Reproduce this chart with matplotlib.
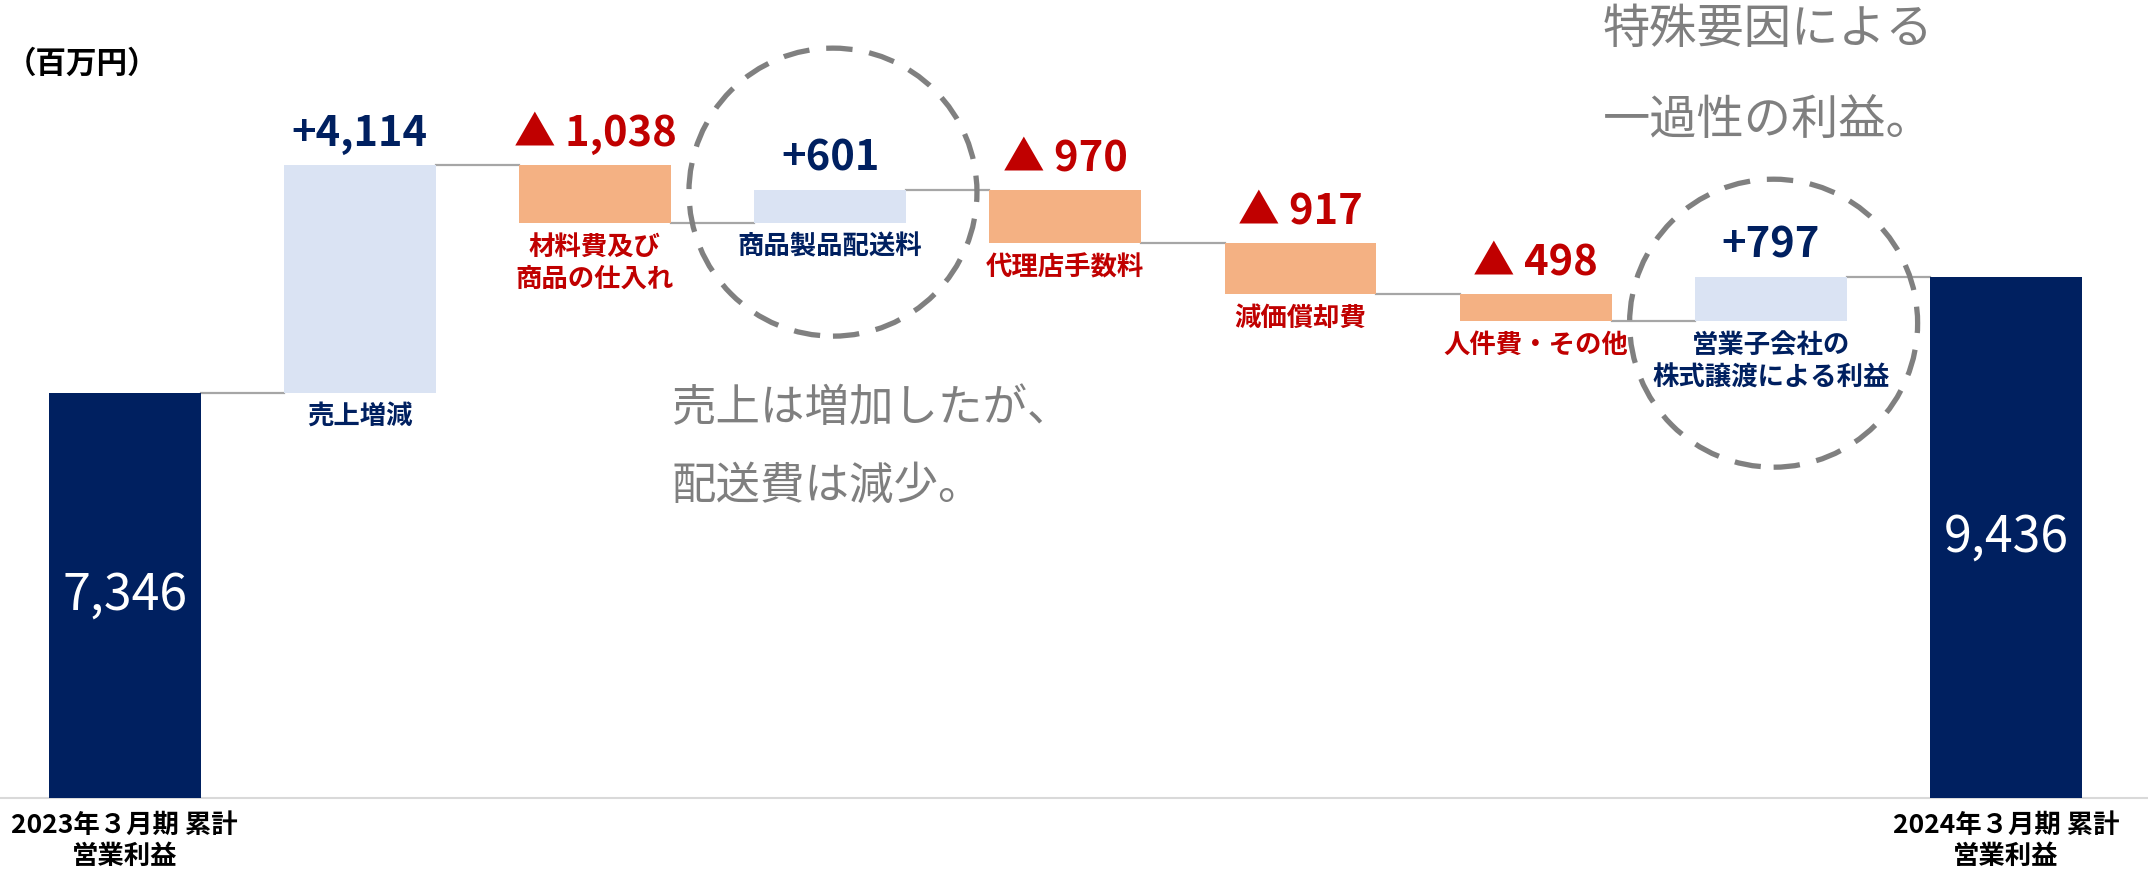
import matplotlib
matplotlib.use('Agg')
import matplotlib.pyplot as plt
from matplotlib.patches import Ellipse

plt.rcParams['font.family'] = ['Noto Sans CJK JP', 'DejaVu Sans']

# data (百万円)
categories = ["2023年３月期 累計\n営業利益", "売上増減", "材料費及び\n商品の仕入れ",
              "商品製品配送料", "代理店手数料", "減価償却費", "人件費・その他",
              "営業子会社の\n株式譲渡による利益", "2024年３月期 累計\n営業利益"]
start_value = 7346
changes = [4114, -1038, 601, -970, -917, -498, 797]
end_value = 9436

NAVY = '#002060'
LIGHT = '#dae3f3'
ORANGE = '#f4b183'
RED = '#c00000'
GRAY = '#7f7f7f'

W, H = 2148, 876
fig = plt.figure(figsize=(W / 100, H / 100), dpi=100)
ax_bottom_px = 78
ax = fig.add_axes([0, ax_bottom_px / H, 1, (H - ax_bottom_px) / H])
xmin, xmax = -0.530, 8.604
ymax = 14457
ax.set_xlim(xmin, xmax)
ax.set_ylim(0, ymax)
ax.axis('off')
ppx = W / (xmax - xmin)            # pixels per x unit
ppy = (H - ax_bottom_px) / ymax    # pixels per y unit

bw = 0.646

# running totals
levels = [start_value]
for c in changes:
    levels.append(levels[-1] + c)

# end bars
ax.bar([0, 8], [start_value, end_value], width=bw, color=NAVY, zorder=3)
# change bars
for i, c in enumerate(changes):
    lo = min(levels[i], levels[i + 1])
    ax.bar(i + 1, abs(c), bottom=lo, width=bw,
           color=LIGHT if c > 0 else ORANGE, zorder=3)

# connectors
for i in range(8):
    ax.plot([i + bw / 2, i + 1 - bw / 2], [levels[i], levels[i]],
            color='#a6a6a6', lw=1.6, zorder=2)

# baseline
ax.axhline(0, color='#d9d9d9', lw=1.5, clip_on=False, zorder=1)

# value labels and category labels
for i, c in enumerate(changes):
    x = i + 1
    top = max(levels[i], levels[i + 1])
    bot = min(levels[i], levels[i + 1])
    if c > 0:
        txt = '+{:,}'.format(c)
        col = NAVY
    else:
        txt = '▲ {:,}'.format(-c)
        col = RED
    ax.annotate(txt, (x, top), xytext=(0, 14), textcoords='offset points',
                ha='center', va='baseline', fontsize=30, fontweight='bold',
                color=col)
    ax.annotate(categories[x], (x, bot), xytext=(0, -8),
                textcoords='offset points', ha='center', va='top',
                fontsize=19, fontweight='bold', color=col, linespacing=1.25)

# totals inside dark bars
for x, v in [(0, start_value), (8, end_value)]:
    ax.text(x, v / 2, '{:,}'.format(v), ha='center', va='center',
            fontsize=36, color='white', zorder=4)
    ax.annotate(categories[x], (x, 0), xytext=(0, -10),
                textcoords='offset points', ha='center', va='top',
                fontsize=19, fontweight='bold', color='black',
                linespacing=1.2, annotation_clip=False)

# dashed circles
r_px = 144
for x, lo, hi, dy_px in [(3, levels[2], levels[3], 14), (7, levels[6], levels[7], -24)]:
    cy = (lo + hi) / 2 + dy_px / ppy
    ax.add_patch(Ellipse((x + 0.012, cy), 2 * r_px / ppx, 2 * r_px / ppy,
                         fill=False, edgecolor='#808080', lw=3.8,
                         linestyle=(0, (5, 3.2)), zorder=5, clip_on=False))

# unit
fig.text(6 / W, 1 - 64 / H, '（百万円）', ha='left', va='center',
         fontsize=22, fontweight='bold', color='black')

# gray comments
fig.text(671 / W, 1 - 408 / H, '売上は増加したが、', ha='left', va='center',
         fontsize=32, color=GRAY)
fig.text(671 / W, 1 - 486 / H, '配送費は減少。', ha='left', va='center',
         fontsize=32, color=GRAY)
fig.text(1603 / W, 1 - 30 / H, '特殊要因による', ha='left', va='center',
         fontsize=34, color=GRAY)
fig.text(1603 / W, 1 - 121 / H, '一過性の利益。', ha='left', va='center',
         fontsize=34, color=GRAY)

fig.savefig('out.png', dpi=100, facecolor='white')
